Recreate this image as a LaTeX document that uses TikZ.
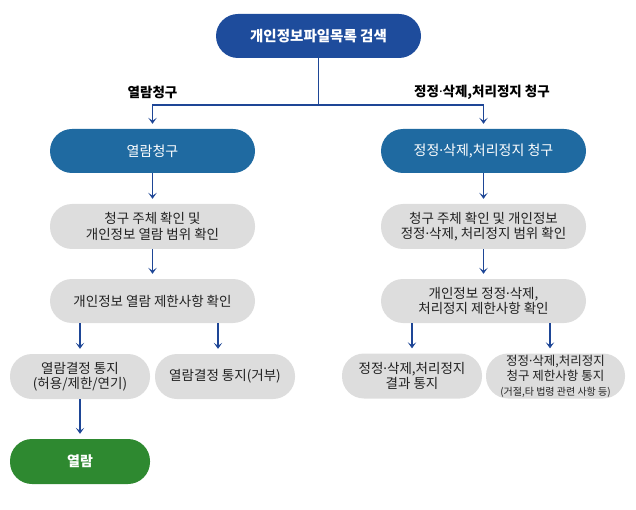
\documentclass[tikz,border=0pt]{standalone}
\usepackage{fontspec}
\setmainfont{Noto Sans CJK KR}
\newfontfamily\dotfont{Noto Sans}
\newcommand{\md}{{\dotfont ·}}
\usetikzlibrary{arrows.meta}
\definecolor{topblue}{RGB}{30,76,156}
\definecolor{midblue}{RGB}{31,106,161}
\definecolor{boxgray}{RGB}{221,221,221}
\definecolor{okgreen}{RGB}{46,137,48}
\definecolor{linecol}{RGB}{30,70,150}
\definecolor{txtcol}{RGB}{34,34,34}
\tikzset{
  pill/.style={draw=none, inner sep=0pt, minimum width=205pt, minimum height=44pt, rounded corners=22pt, align=center},
  topbox/.style={pill, fill=topblue, text=white, font=\fontsize{14.5}{17}\selectfont\bfseries},
  midbox/.style={pill, fill=midblue, text=white, font=\fontsize{14}{17}\selectfont},
  graybox/.style={pill, fill=boxgray, text=txtcol, font=\fontsize{13.5}{15.5}\selectfont},
  smallgray/.style={graybox, minimum width=140pt, minimum height=45pt},
  greenbox/.style={pill, fill=okgreen, text=white, minimum width=140pt, minimum height=45pt, font=\fontsize{14}{17}\selectfont\bfseries},
  lbl/.style={text=black, inner sep=0pt, font=\fontsize{13.5}{16}\selectfont\bfseries},
  conn/.style={draw=linecol, line width=1.2pt},
  arr/.style={conn, -{Stealth[length=6pt, width=8.5pt, inset=3pt]}, shorten >=5pt}
}
\begin{document}
\begin{tikzpicture}[x=1pt, y=-1pt]
\useasboundingbox (0,0) rectangle (636,510);
\node[topbox] (top) at (318.5,36) {개인정보파일목록 검색};
\node[midbox] (a1) at (152.5,151) {열람청구};
\node[midbox] (b1) at (483.5,151) {정정\md 삭제,처리정지 청구};
\node[graybox, minimum height=45pt] (a2) at (152.5,226.5) {청구 주체 확인 및\\개인정보 열람 범위 확인};
\node[graybox, minimum height=45pt] (b2) at (483.5,226.5) {청구 주체 확인 및 개인정보\\정정\md 삭제, 처리정지 범위 확인};
\node[graybox] (a3) at (152.5,301) {개인정보 열람 제한사항 확인};
\node[graybox] (b3) at (483.5,301) {개인정보 정정\md 삭제,\\처리정지 제한사항 확인};
\node[smallgray] (a4) at (80,376.5) {열람결정 통지\\(허용/제한/연기)};
\node[smallgray] (a5) at (225,376.5) {열람결정 통지(거부)};
\node[greenbox] (a6) at (80,461.5) {열람};
\node[smallgray] (b4) at (412,376) {정정\md 삭제,처리정지\\결과 통지};
\node[smallgray, minimum width=139pt, align=center] (b5) at (555.5,376) {\fontsize{12.5}{13.5}\selectfont 정정\md 삭제,처리정지\\\fontsize{12.5}{13.5}\selectfont 청구 제한사항 통지\\[-1pt]\fontsize{10}{11}\selectfont (거절,타 법령 관련 사항 등)};
\coordinate (j) at (318.5,105);
\node[lbl] (la) at (152.5,92) {열람청구};
\node[lbl] (lb) at (482,92) {정정\md 삭제,처리정지 청구};
\draw[conn] (top.south) -- (j);
\draw[arr] (j) -| (a1.north);
\draw[arr] (j) -| (b1.north);
\draw[arr] (a1.south) -- (a2.north);
\draw[arr] (a2.south) -- (a3.north);
\draw[arr] (b1.south) -- (b2.north);
\draw[arr] (b2.south) -- (b3.north);
\draw[arr] (a3.south -| a4.north) -- (a4.north);
\coordinate (a5top) at ([xshift=-7pt]a5.north);
\draw[arr] (a3.south -| a5top) -- (a5top);
\draw[arr] (a4.south) -- (a6.north);
\draw[arr] (b3.south -| b4.north) -- (b4.north);
\coordinate (b5top) at ([xshift=-5.5pt]b5.north);
\draw[arr] (b3.south -| b5top) -- (b5top);
\end{tikzpicture}
\end{document}
